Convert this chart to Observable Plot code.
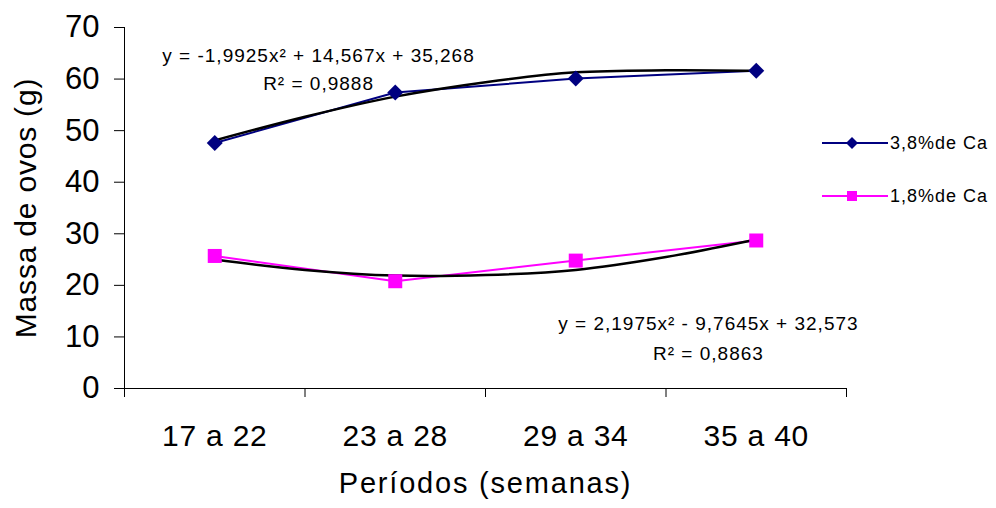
<!DOCTYPE html>
<html>
<head>
<meta charset="utf-8">
<script src="https://cdn.jsdelivr.net/npm/d3@7"></script>
<script src="https://cdn.jsdelivr.net/npm/@observablehq/plot@0.6"></script>
<style>
  html, body { margin: 0; padding: 0; background: #fff; }
  #wrap { position: relative; width: 996px; height: 508px; font-family: "Liberation Sans", Arial, sans-serif; }
  .leg { position: absolute; left: 822px; display: flex; align-items: center; font-size: 18px; color: #000; }
  .leg svg { display: block; }
  .leg span { margin-left: 2px; letter-spacing: 1px; }
</style>
</head>
<body>
<div id="wrap"></div>
<script>
// ---- data ----
const categories = ["17 a 22", "23 a 28", "29 a 34", "35 a 40"];
const seriesNames = ["3,8%de Ca", "1,8%de Ca"];
const ca38 = [47.6, 57.4, 60.1, 61.6];
const ca18 = [25.7, 20.8, 24.8, 28.7];
// trend lines at half-period steps
const trendPos = [1, 1.5, 2, 2.5, 3, 3.5, 4];
const trend38 = [48.1, 52.7, 56.6, 59.4, 61.3, 61.7, 61.6];
const trend18 = [25.0, 23.0, 21.9, 22.0, 23.0, 25.5, 28.9];
const yTicks = [0, 10, 20, 30, 40, 50, 60, 70];
const eq38 = ["y = -1,9925x² + 14,567x + 35,268", "R² = 0,9888"];
const eq18 = ["y = 2,1975x² - 9,7645x + 32,573", "R² = 0,8863"];

const colors = ["#000080", "#FF00FF"];

const pts = [
  ...ca38.map((v, i) => ({x: i + 1, y: v, s: seriesNames[0]})),
  ...ca18.map((v, i) => ({x: i + 1, y: v, s: seriesNames[1]}))
];
const tr = [
  ...trend38.map((v, i) => ({x: trendPos[i], y: v, s: "t1"})),
  ...trend18.map((v, i) => ({x: trendPos[i], y: v, s: "t2"}))
];
const boundaries = d3.range(categories.length + 1).map(i => i + 0.5);

const font = "'Liberation Sans', Arial, sans-serif";

const chart = Plot.plot({
  width: 996,
  height: 508,
  marginLeft: 124,
  marginRight: 150,
  marginTop: 27,
  marginBottom: 120,
  style: {fontFamily: font, color: "#000", background: "#fff", overflow: "visible"},
  x: {type: "linear", domain: [0.5, categories.length + 0.5], axis: null},
  y: {domain: [0, 70], axis: null},
  marks: [
    // axes
    Plot.axisY({ticks: yTicks, tickSize: 10, tickPadding: 15, fontSize: 31, label: null, stroke: "#000", strokeWidth: 1}),
    Plot.axisX({ticks: boundaries, tickSize: 9, tickFormat: () => "", label: null, stroke: "#000", strokeWidth: 1}),
    Plot.axisX({ticks: d3.range(1, categories.length + 1), tickSize: 0, tickPadding: 36, fontSize: 30,
                tickFormat: d => categories[d - 1], label: null}),
    Plot.ruleX([0.5], {stroke: "#000", strokeWidth: 1}),
    Plot.ruleY([0], {stroke: "#000", strokeWidth: 1}),
    // series lines
    Plot.line(pts, {x: "x", y: "y", z: "s", stroke: d => d.s === seriesNames[0] ? colors[0] : colors[1], strokeWidth: 2}),
    // trend lines
    Plot.line(tr, {x: "x", y: "y", z: "s", stroke: "#000", strokeWidth: 2.5, curve: "catmull-rom"}),
    // markers
    Plot.dot(pts.filter(d => d.s === seriesNames[0]), {x: "x", y: "y", symbol: "diamond2", r: 7.2, fill: colors[0], stroke: "none"}),
    Plot.dot(pts.filter(d => d.s === seriesNames[1]), {x: "x", y: "y", symbol: "square", r: 7.9, fill: colors[1], stroke: "none"}),
    // equations
    Plot.text([eq38[0]], {x: 1.575, y: 63.4, text: d => d, fontSize: 19, textAnchor: "middle", lineAnchor: "bottom", fill: "#000"}),
    Plot.text([eq38[1]], {x: 1.575, y: 57.8, text: d => d, fontSize: 19, textAnchor: "middle", lineAnchor: "bottom", fill: "#000"}),
    Plot.text([eq18[0]], {x: 3.735, y: 11.3, text: d => d, fontSize: 19, textAnchor: "middle", lineAnchor: "bottom", fill: "#000"}),
    Plot.text([eq18[1]], {x: 3.735, y: 5.5, text: d => d, fontSize: 19, textAnchor: "middle", lineAnchor: "bottom", fill: "#000"}),
    // axis titles
    Plot.text(["Massa de ovos (g)"], {frameAnchor: "left", dx: -98, rotate: -90, text: d => d, fontSize: 30, textAnchor: "middle", lineAnchor: "middle", fill: "#000"}),
    Plot.text(["Períodos (semanas)"], {frameAnchor: "bottom", dy: 95, text: d => d, fontSize: 29, textAnchor: "middle", lineAnchor: "middle", fill: "#000"})
  ]
});

// letter spacing to mimic the original's wide text rendering
const spacing = {"19": "1px", "29": "1.8px", "30": "0.8px"};
chart.querySelectorAll("g[font-size]").forEach(g => {
  const fs = g.getAttribute("font-size");
  if (spacing[fs]) g.setAttribute("letter-spacing", spacing[fs]);
});

const wrap = document.getElementById("wrap");
wrap.appendChild(chart);

// legend
const legTops = [143, 196];
seriesNames.forEach((name, i) => {
  const div = document.createElement("div");
  div.className = "leg";
  div.style.top = (legTops[i] - 12) + "px";
  div.style.height = "24px";
  const marker = i === 0
    ? `<path d="M30 -6 L36 0 L30 6 L24 0 Z" fill="${colors[0]}"/>`
    : `<rect x="25" y="-5" width="10" height="10" fill="${colors[1]}"/>`;
  div.innerHTML = `<svg width="66" height="24" viewBox="0 -12 66 24"><line x1="0" x2="66" y1="0" y2="0" stroke="${colors[i]}" stroke-width="2"/>${marker}</svg><span>${name}</span>`;
  wrap.appendChild(div);
});
</script>
</body>
</html>
